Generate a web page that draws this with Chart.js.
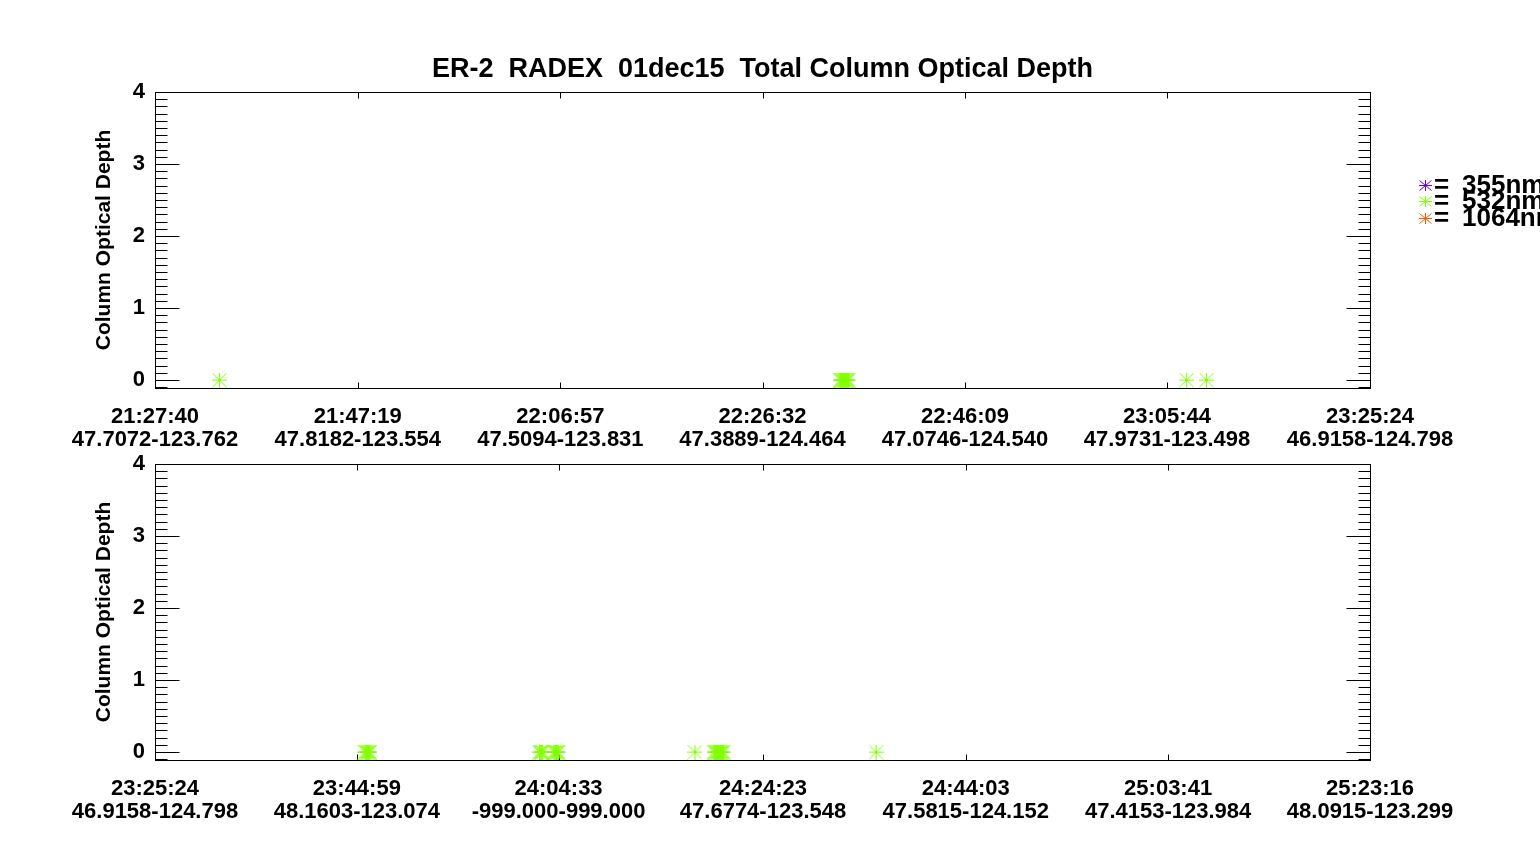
<!DOCTYPE html>
<html>
<head>
<meta charset="utf-8">
<title>ER-2 RADEX 01dec15</title>
<script src="https://cdn.jsdelivr.net/npm/chart.js@4/dist/chart.umd.min.js"></script>
<style>
  html, body { margin: 0; padding: 0; background: #fff; }
  #wrap { position: relative; width: 1540px; height: 845px; overflow: hidden; }
  #topChart { position: absolute; left: 0; top: 0; }
  #botChart { position: absolute; left: 0; top: 420px; }
</style>
</head>
<body>
<div id="wrap">
  <canvas id="topChart" width="1540" height="455"></canvas>
  <canvas id="botChart" width="1540" height="425"></canvas>
</div>
<script>
// ---- data ----
const titleText = 'ER-2  RADEX  01dec15  Total Column Optical Depth';
const yTitle = 'Column Optical Depth';
const wavelengths = ['355nm', '532nm', '1064nm'];
const seriesColors = ['#6a00dc', '#80ff00', '#ff5a00'];

const yTicks = [0, 1, 2, 3, 4];
const yMin = -0.11;
const yMax = 4;

// top panel
const topTickTimes = ['21:27:40', '21:47:19', '22:06:57', '22:26:32', '22:46:09', '23:05:44', '23:25:24'];
const topTickPlaces = ['47.7072-123.762', '47.8182-123.554', '47.5094-123.831', '47.3889-124.464',
                       '47.0746-124.540', '47.9731-123.498', '46.9158-124.798'];
const top355Times = [];
const top355Values = [];
const top532Times = ['21:33:55',
  '22:34:03', '22:34:08', '22:34:13', '22:34:18', '22:34:23', '22:34:28', '22:34:33', '22:34:38', '22:34:43', '22:34:48', '22:34:52',
  '23:07:38', '23:09:33'];
const top532Values = [0, 0, 0, 0, 0, 0, 0, 0, 0, 0, 0, 0, 0, 0];
const top1064Times = [];
const top1064Values = [];

// bottom panel
const botTickTimes = ['23:25:24', '23:44:59', '24:04:33', '24:24:23', '24:44:03', '25:03:41', '25:23:16'];
const botTickPlaces = ['46.9158-124.798', '48.1603-123.074', '-999.000-999.000', '47.6774-123.548',
                       '47.5815-124.152', '47.4153-123.984', '48.0915-123.299'];
const bot355Times = [];
const bot355Values = [];
const bot532Times = [
  '23:45:46', '23:45:51', '23:45:56', '23:46:01', '23:46:06', '23:46:11', '23:46:15',
  '24:02:42', '24:02:47', '24:02:52', '24:02:57', '24:03:02',
  '24:04:06', '24:04:11', '24:04:16', '24:04:21', '24:04:26', '24:04:32',
  '24:17:47',
  '24:19:38', '24:19:43', '24:19:48', '24:19:53', '24:19:58', '24:20:03', '24:20:08', '24:20:13', '24:20:18', '24:20:23', '24:20:28', '24:20:33',
  '24:35:21'];
const bot532Values = [0, 0, 0, 0, 0, 0, 0, 0, 0, 0, 0, 0, 0, 0, 0, 0, 0, 0, 0, 0, 0, 0, 0, 0, 0, 0, 0, 0, 0, 0, 0, 0];
const bot1064Times = [];
const bot1064Values = [];

// ---- helpers ----
const FONT = '"Liberation Sans", Arial, Helvetica, sans-serif';
const labelFont = { family: FONT, size: 22, weight: 'bold', lineHeight: 1.05 };

function toSec(t) {
  const p = t.split(':').map(Number);
  return p[0] * 3600 + p[1] * 60 + p[2];
}

// IDL psym=2 style asterisk: cross plus corner-to-corner diagonals
function asterisk(color, w, h) {
  const c = document.createElement('canvas');
  c.width = w; c.height = h;
  const g = c.getContext('2d');
  g.strokeStyle = color;
  g.lineWidth = 1;
  const mx = Math.floor(w / 2) + 0.5, my = Math.floor(h / 2) + 0.5;
  g.beginPath();
  g.moveTo(0, my); g.lineTo(w, my);
  g.moveTo(mx, 0); g.lineTo(mx, h);
  g.moveTo(0.5, 0.5); g.lineTo(w - 0.5, h - 0.5);
  g.moveTo(w - 0.5, 0.5); g.lineTo(0.5, h - 0.5);
  g.stroke();
  return c;
}

const pointImgs = seriesColors.map(c => asterisk(c, 15, 15));
const legendImgs = seriesColors.map(c => asterisk(c, 13, 11));

// frame, inward ticks, title and legend (IDL style)
const framePlugin = {
  id: 'idlFrame',
  beforeDatasetsDraw(chart, args, opts) {
    const ctx = chart.ctx;
    const a = chart.chartArea;
    const xs = chart.scales.x, ys = chart.scales.y;
    ctx.save();
    ctx.strokeStyle = '#000';
    ctx.lineWidth = 1;
    const L = Math.round(a.left) + 0.5, R = Math.round(a.right) + 0.5;
    const T = Math.round(a.top) + 0.5, B = Math.round(a.bottom) + 0.5;
    ctx.strokeRect(L, T, R - L, B - T);
    ctx.beginPath();
    // y ticks: majors at yTicks, 10 minors per major
    for (let i = 0; i < yTicks.length; i++) {
      for (let m = -9; m <= 0; m++) {
        const v = yTicks[i] + m * 0.1;
        if (v < yMin - 1e-9 || v > yMax + 1e-9) continue;
        const len = m === 0 ? 24 : 12;
        const py = Math.round(ys.getPixelForValue(v)) + 0.5;
        ctx.moveTo(L, py); ctx.lineTo(L + len, py);
        ctx.moveTo(R, py); ctx.lineTo(R - len, py);
      }
    }
    // x ticks top and bottom
    xs.ticks.forEach(t => {
      const px = Math.round(xs.getPixelForValue(t.value)) + 0.5;
      ctx.moveTo(px, B); ctx.lineTo(px, B - 6);
      ctx.moveTo(px, T); ctx.lineTo(px, T + 6);
    });
    ctx.stroke();
    ctx.restore();
  },
  afterDraw(chart, args, opts) {
    if (!opts.showTitle) return;
    const ctx = chart.ctx;
    const a = chart.chartArea;
    ctx.save();
    ctx.fillStyle = '#000';
    ctx.font = 'bold 27px ' + FONT;
    ctx.textAlign = 'center';
    ctx.textBaseline = 'middle';
    ctx.fillText(titleText, (a.left + a.right) / 2, 70);
    // legend
    const rows = [185, 201, 218];
    chart.data.datasets.forEach((ds, i) => {
      ctx.drawImage(legendImgs[i], 1419, rows[i] - 5);
      ctx.fillStyle = '#000';
      ctx.font = 'bold 26px ' + FONT;
      ctx.textAlign = 'left';
      ctx.fillText('=', 1434, rows[i] + 1);
      ctx.fillText(ds.label, 1462, rows[i] + 1);
    });
    ctx.restore();
  }
};

function makeChart(id, tickTimes, tickPlaces, times, values, padTop, axisH, showTitle) {
  const tickVals = tickTimes.map(toSec);
  const datasets = wavelengths.map((w, i) => ({
    label: w,
    data: times[i].map((t, k) => ({ x: toSec(t), y: values[i][k] })),
    pointStyle: pointImgs[i],
    pointRadius: 7.5,
    pointHoverRadius: 7.5,
    borderWidth: 1,
    borderColor: seriesColors[i],
    backgroundColor: seriesColors[i]
  }));
  return new Chart(document.getElementById(id), {
    type: 'scatter',
    data: { datasets },
    options: {
      responsive: false,
      animation: false,
      devicePixelRatio: 1,
      layout: { padding: { left: 0, right: 170, top: padTop, bottom: 0 } },
      plugins: {
        legend: { display: false },
        tooltip: { enabled: false },
        idlFrame: { showTitle }
      },
      scales: {
        x: {
          type: 'linear',
          min: tickVals[0],
          max: tickVals[tickVals.length - 1],
          afterBuildTicks: s => { s.ticks = tickVals.map(v => ({ value: v })); },
          afterFit: s => { s.height = axisH; },
          grid: { display: false, drawTicks: false },
          border: { display: false },
          ticks: {
            autoSkip: false, maxRotation: 0, minRotation: 0,
            padding: 17, color: '#000', font: labelFont,
            callback: (v, i) => [tickTimes[i], tickPlaces[i]]
          }
        },
        y: {
          min: yMin,
          max: yMax,
          afterBuildTicks: s => { s.ticks = yTicks.map(v => ({ value: v })); },
          afterFit: s => { s.width = 155; },
          grid: { display: false, drawTicks: false },
          border: { display: false },
          ticks: { padding: 10, color: '#000', font: labelFont, callback: v => String(v) },
          title: {
            display: true, text: yTitle, color: '#000',
            font: { family: FONT, size: 21, weight: 'bold', lineHeight: 1.2 },
            padding: { top: 92, bottom: 0 }
          }
        }
      }
    },
    plugins: [framePlugin]
  });
}

makeChart('topChart', topTickTimes, topTickPlaces,
  [top355Times, top532Times, top1064Times], [top355Values, top532Values, top1064Values],
  92, 67, true);
makeChart('botChart', botTickTimes, botTickPlaces,
  [bot355Times, bot532Times, bot1064Times], [bot355Values, bot532Values, bot1064Values],
  44, 85, false);
</script>
</body>
</html>
